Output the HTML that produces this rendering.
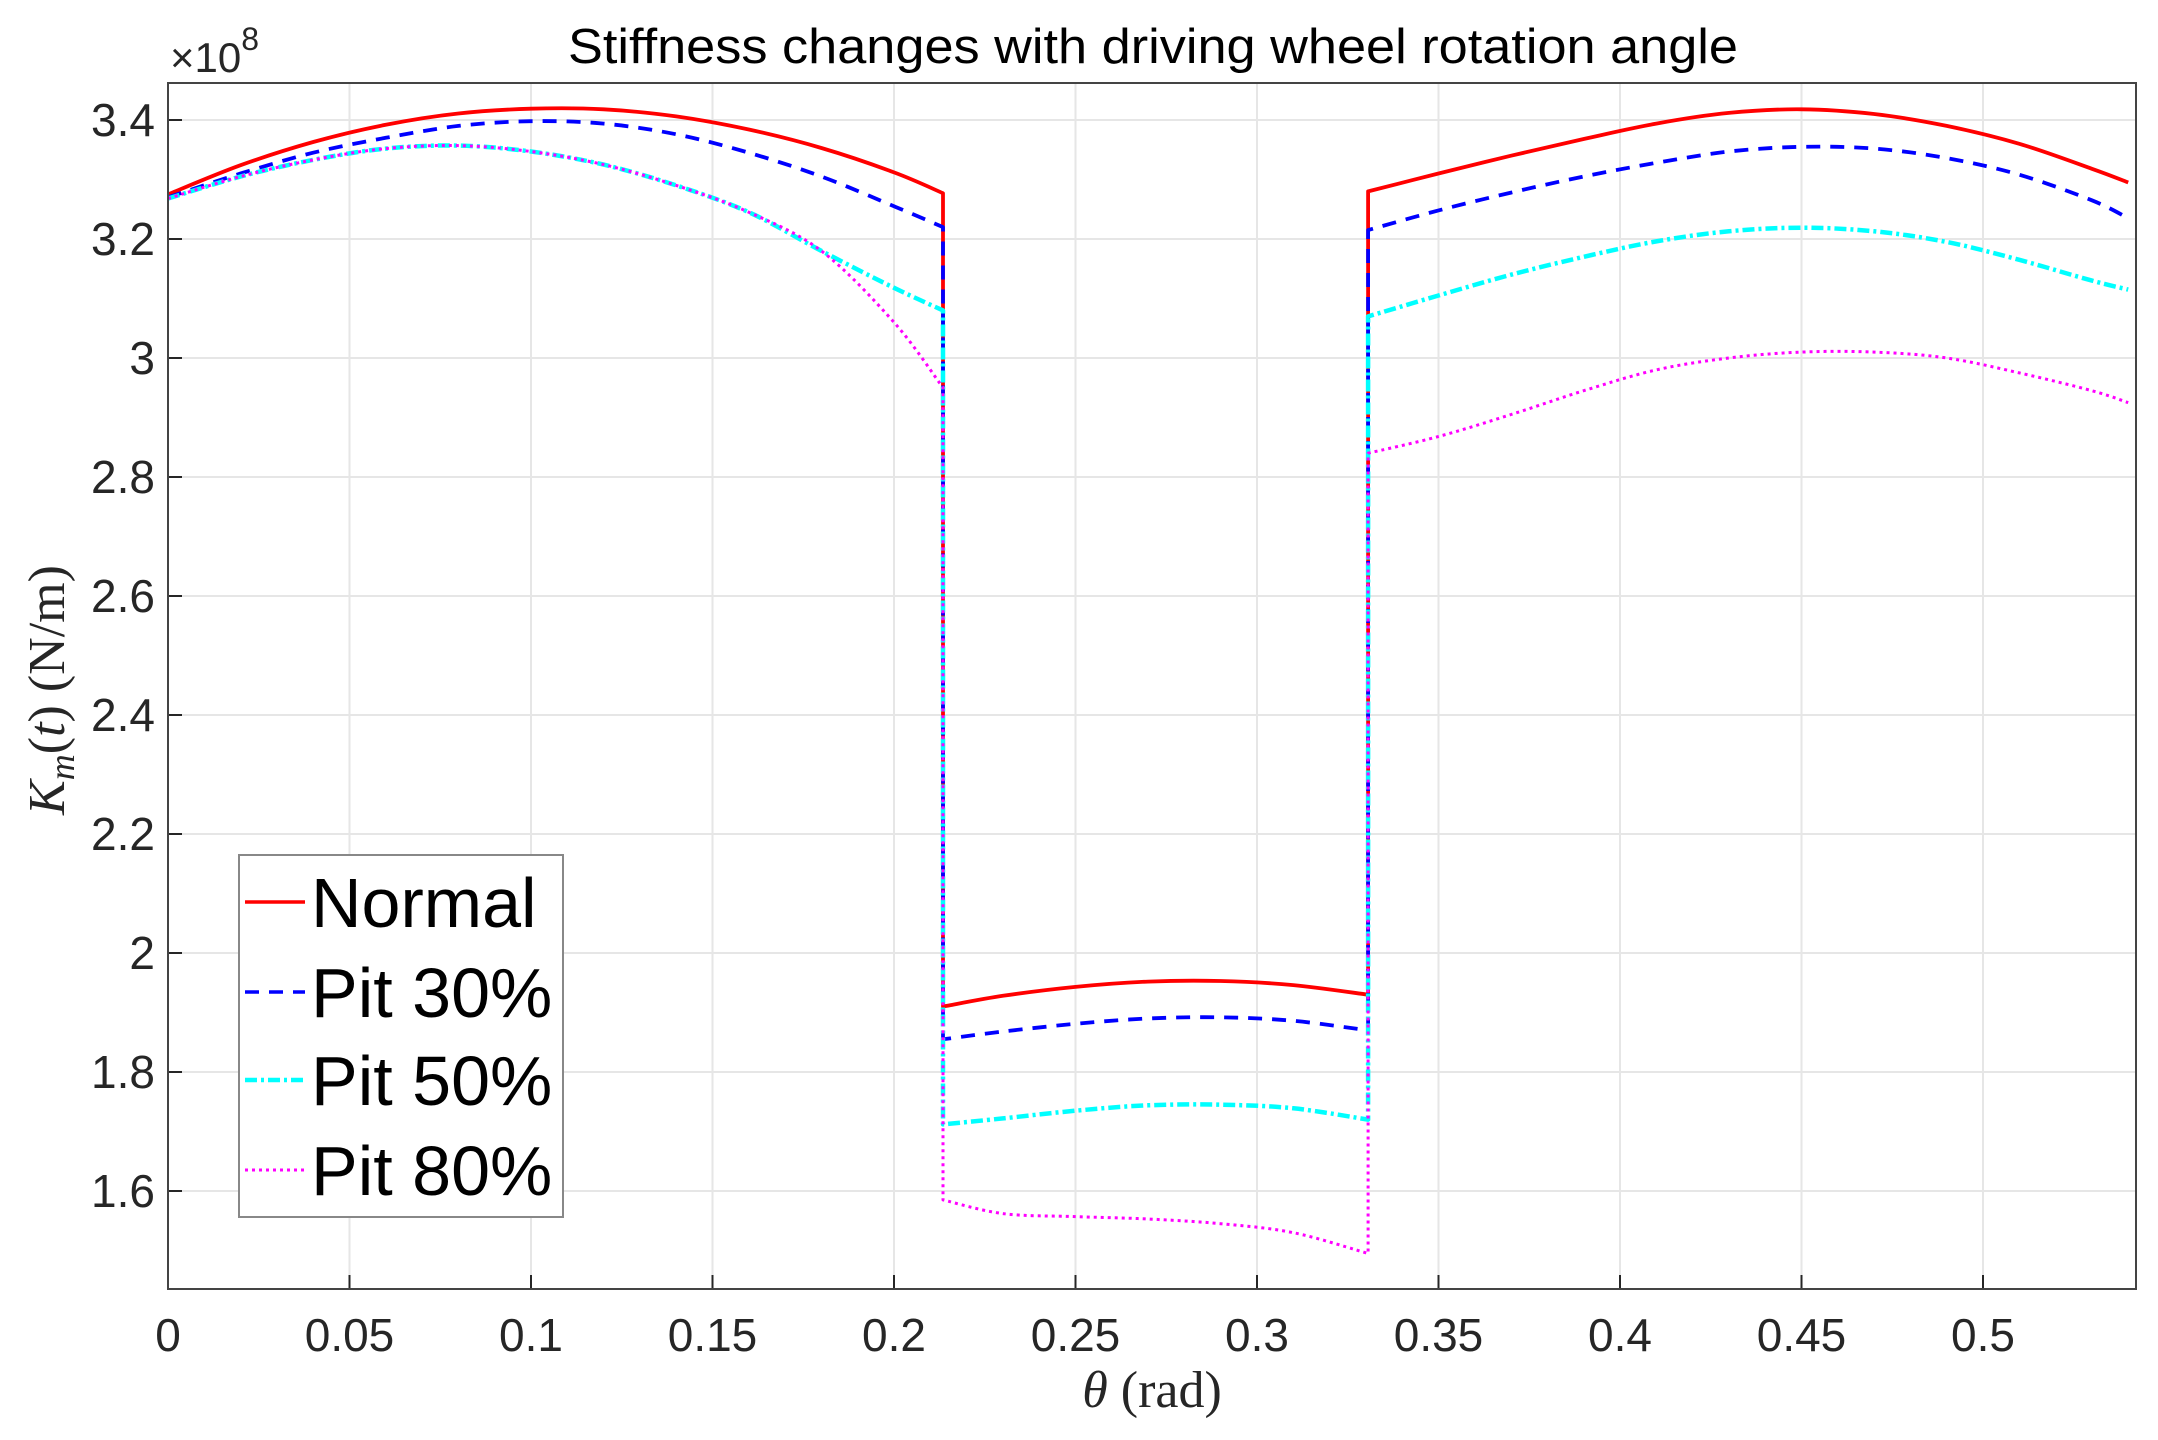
<!DOCTYPE html>
<html><head><meta charset="utf-8"><style>
html,body{margin:0;padding:0;background:#fff;}
svg{display:block;font-family:"Liberation Sans",sans-serif;}
</style></head><body>
<svg id="chart" width="2158" height="1440" viewBox="0 0 2158 1440" xmlns="http://www.w3.org/2000/svg">
<rect x="0" y="0" width="2158" height="1440" fill="#fff"/>
<g id="grid"></g>
<g id="series"></g>
<g id="axes"></g>
<text x="1153" y="63" font-size="49" text-anchor="middle" fill="#000" textLength="1170" lengthAdjust="spacingAndGlyphs">Stiffness changes with driving wheel rotation angle</text>
<text x="170" y="72" font-size="42" fill="#262626">×10<tspan dy="-22" font-size="32">8</tspan></text>
<text x="1152" y="1407" font-size="52" text-anchor="middle" font-family="Liberation Serif,serif" fill="#262626"><tspan font-style="italic">θ</tspan> (rad)</text>
<text transform="translate(64,690) rotate(-90)" font-size="52" text-anchor="middle" font-family="Liberation Serif,serif" fill="#262626"><tspan font-style="italic">K</tspan><tspan font-style="italic" font-size="36" dy="10">m</tspan><tspan dy="-10">(</tspan><tspan font-style="italic">t</tspan>)  (N/m)</text>
<g>
<rect x="239" y="855" width="324" height="362" fill="#fff" stroke="#888" stroke-width="2"/>
<line x1="245" y1="902" x2="305" y2="902" stroke="#ff0000" stroke-width="3.5"/>
<text x="311" y="927" font-size="70">Normal</text>
<line x1="245" y1="992" x2="305" y2="992" stroke="#0000ff" stroke-width="3.5" stroke-dasharray="14,10"/>
<text x="311" y="1017" font-size="70">Pit 30%</text>
<line x1="245" y1="1080" x2="305" y2="1080" stroke="#00ffff" stroke-width="4.5" stroke-dasharray="12,4,3,4"/>
<text x="311" y="1105" font-size="70">Pit 50%</text>
<line x1="245" y1="1170" x2="305" y2="1170" stroke="#ff00ff" stroke-width="3" stroke-dasharray="3,4"/>
<text x="311" y="1195" font-size="70">Pit 80%</text>
</g>
</svg>
<script>
const thetaValues = [0,0.02,0.04,0.06,0.08,0.1,0.12,0.14,0.16,0.18,0.2,0.2135, 0.2135,0.23,0.25,0.27,0.29,0.31,0.3306, 0.3306,0.35,0.37,0.39,0.41,0.43,0.45,0.47,0.49,0.51,0.53,0.54];
const normalValues = [3.275,3.324,3.363,3.392,3.411,3.419,3.418,3.406,3.384,3.353,3.312,3.277, 1.91,1.928,1.943,1.952,1.953,1.946,1.93, 3.28,3.31,3.34,3.368,3.394,3.412,3.418,3.41,3.39,3.36,3.318,3.295];
const pit30Values = [3.27,3.31,3.345,3.37,3.39,3.398,3.394,3.376,3.345,3.305,3.255,3.22, 1.855,1.868,1.881,1.89,1.892,1.886,1.87, 3.215,3.248,3.278,3.305,3.328,3.347,3.355,3.352,3.336,3.308,3.265,3.235];
const pit50Values = [3.268,3.305,3.333,3.352,3.357,3.347,3.325,3.29,3.245,3.18,3.118,3.08, 1.712,1.722,1.735,1.744,1.745,1.739,1.72, 3.07,3.105,3.14,3.17,3.196,3.213,3.219,3.213,3.195,3.165,3.13,3.115];
const pit80Values = [3.268,3.305,3.333,3.352,3.357,3.347,3.325,3.29,3.245,3.18,3.06,2.95, 1.585,1.562,1.557,1.553,1.545,1.53,1.495, 2.84,2.868,2.905,2.945,2.98,3.0,3.01,3.01,3.0,2.975,2.945,2.925];
const xTickValues = [0,0.05,0.1,0.15,0.2,0.25,0.3,0.35,0.4,0.45,0.5];
const xTickLabels = ["0","0.05","0.1","0.15","0.2","0.25","0.3","0.35","0.4","0.45","0.5"];
const yTickValues = [1.6,1.8,2,2.2,2.4,2.6,2.8,3,3.2,3.4];
const yTickLabels = ["1.6","1.8","2","2.2","2.4","2.6","2.8","3","3.2","3.4"];

const L=168,R=2136,T=83,B=1289;
const X0=0,X1=(R-L)/3630;
const Y0=1.6-(B-1191)/595, Y1=3.4+(120-T)/595;
function sx(v){return L+(v-X0)/(X1-X0)*(R-L);}
function sy(v){return B-(v-Y0)/(Y1-Y0)*(B-T);}
const NS="http://www.w3.org/2000/svg";
function mk(tag,attrs,parent){const e=document.createElementNS(NS,tag);for(const k in attrs)e.setAttribute(k,attrs[k]);parent.appendChild(e);return e;}
const grid=document.getElementById('grid'),axes=document.getElementById('axes'),series=document.getElementById('series');
xTickValues.forEach((v,i)=>{
  const x=sx(v);
  const g=mk('line',{x1:x,x2:x,y1:T,y2:B,stroke:'#e6e6e6','stroke-width':2},grid);
  
  
  const t=mk('line',{x1:x,x2:x,y1:B,y2:B-14,stroke:'#262626','stroke-width':2},axes);
  
  
  const lb=mk('text',{x:x,y:1351,'font-size':46,'text-anchor':'middle',fill:'#262626'},axes);
  lb.textContent=xTickLabels[i];
  
  
});
yTickValues.forEach((v,i)=>{
  const y=sy(v);
  const g=mk('line',{x1:L,x2:R,y1:y,y2:y,stroke:'#e6e6e6','stroke-width':2},grid);
  
  
  const t=mk('line',{x1:L,x2:L+14,y1:y,y2:y,stroke:'#262626','stroke-width':2},axes);
  
  
  const lb=mk('text',{x:155,y:y+16,'font-size':46,'text-anchor':'end',fill:'#262626'},axes);
  lb.textContent=yTickLabels[i];
  
  
});
const box=mk('rect',{x:L,y:T,width:R-L,height:B-T,fill:'none',stroke:'#444','stroke-width':2},axes);


function buildPath(vals){
  const P=thetaValues.map((t,i)=>[sx(t),sy(vals[i])]);
  let d='M'+P[0][0].toFixed(1)+','+P[0][1].toFixed(1);
  for(let i=1;i<P.length;i++){
    if(Math.abs(P[i][0]-P[i-1][0])<0.5){d+=' L'+P[i][0].toFixed(1)+','+P[i][1].toFixed(1);continue;}
    const p0=(i>=2&&Math.abs(P[i-1][0]-P[i-2][0])>=0.5)?P[i-2]:P[i-1];
    const p3=(i+1<P.length&&Math.abs(P[i+1][0]-P[i][0])>=0.5)?P[i+1]:P[i];
    const p1=P[i-1],p2=P[i];
    const c1=[p1[0]+(p2[0]-p0[0])/6,p1[1]+(p2[1]-p0[1])/6];
    const c2=[p2[0]-(p3[0]-p1[0])/6,p2[1]-(p3[1]-p1[1])/6];
    d+=' C'+c1[0].toFixed(1)+','+c1[1].toFixed(1)+' '+c2[0].toFixed(1)+','+c2[1].toFixed(1)+' '+p2[0].toFixed(1)+','+p2[1].toFixed(1);
  }
  return d;
}
function drawSeries(vals,color,dash,w,name){
  const p=mk('path',{d:buildPath(vals),fill:'none',stroke:color,'stroke-width':w,'stroke-dasharray':dash,'stroke-linejoin':'round'},series);
  
  
}
drawSeries(normalValues,'#ff0000','none',3.8,'line-normal');
drawSeries(pit30Values,'#0000ff','14,10',3.8,'line-pit-30');
drawSeries(pit50Values,'#00ffff','12,4,3,4',4.5,'line-pit-50');
drawSeries(pit80Values,'#ff00ff','3,4',3,'line-pit-80');
</script>
</body></html>
